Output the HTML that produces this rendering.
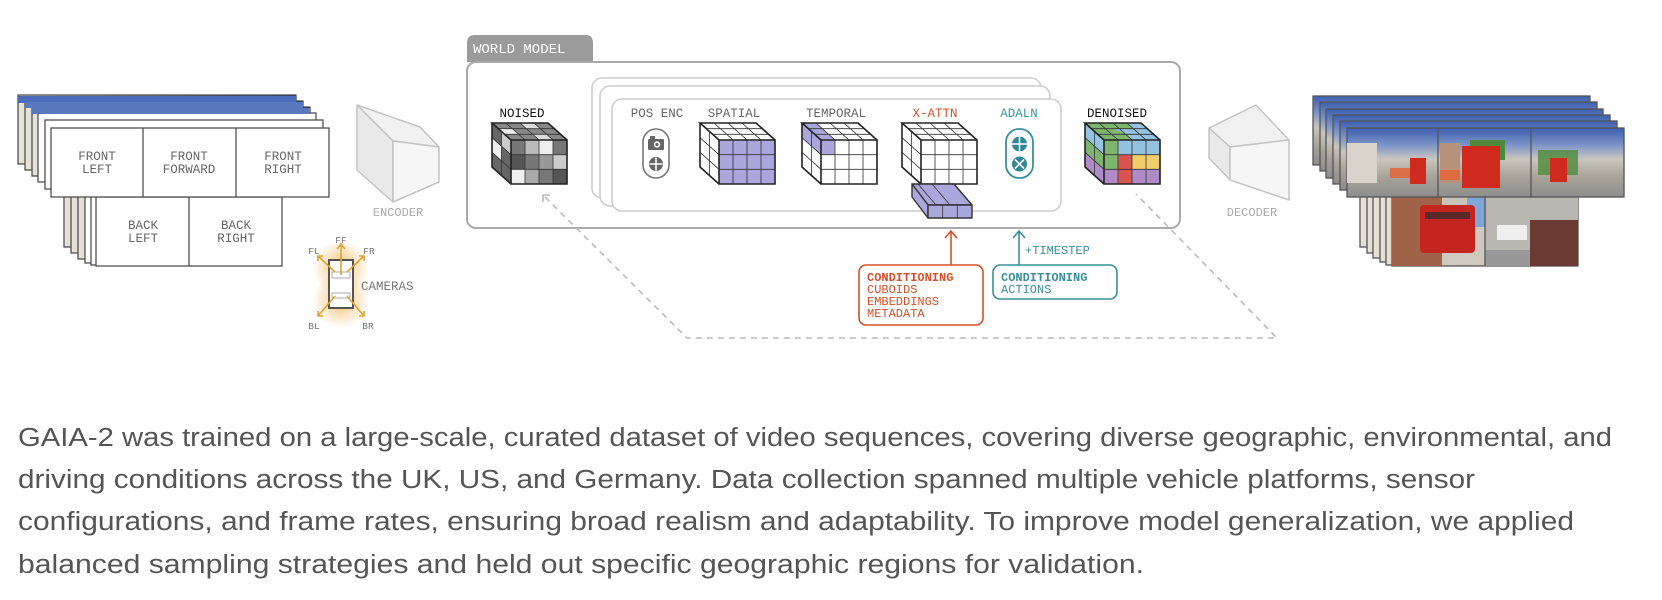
<!DOCTYPE html>
<html><head><meta charset="utf-8"><style>
html,body{margin:0;padding:0;background:#fff;width:1662px;height:600px;overflow:hidden}
svg{display:block}
.m{font-family:"Liberation Mono",monospace}
</style></head><body>
<svg width="1662" height="600" viewBox="0 0 1662 600" xmlns="http://www.w3.org/2000/svg">
<defs>
<linearGradient id="img" x1="0" y1="0" x2="0" y2="1">
<stop offset="0" stop-color="#3d5fb0"/><stop offset="0.25" stop-color="#7d95c8"/><stop offset="0.45" stop-color="#c9c6bd"/><stop offset="0.7" stop-color="#a9a49a"/><stop offset="1" stop-color="#8d8d8d"/></linearGradient>
<linearGradient id="side" x1="0" y1="0" x2="1" y2="0">
<stop offset="0" stop-color="#e8e4da"/><stop offset="0.5" stop-color="#8a8378"/><stop offset="1" stop-color="#2a3f7a"/></linearGradient>
<radialGradient id="glow"><stop offset="0" stop-color="#f0b24a" stop-opacity="0.8"/><stop offset="1" stop-color="#f0b24a" stop-opacity="0"/></radialGradient>
<g id="grid" fill="none" stroke="#333" stroke-width="0.8">
<path d="M14 0V44M28 0V44M42 0V44M0 14.7H56M0 29.3H56"/>
<path d="M14 0L-5 -17M28 0L9 -17M42 0L23 -17M-6.3 -5.7H49.7M-12.7 -11.3H43.3"/>
<path d="M0 14.7L-19 -2.3M0 29.3L-19 12.3M-9.5 -8.5V35.5"/>
<path d="M0 0H56V44H0ZM0 0L-19 -17H37L56 0M0 44L-19 27V-17" stroke-width="1.6" stroke="#222"/>
</g>
</defs>

<g stroke="#444" stroke-width="1.2">
<rect x="18" y="95" width="278" height="69" fill="url(#side)"/>
<rect x="25" y="101" width="278" height="69" fill="url(#side)"/>
<rect x="32" y="107" width="278" height="69" fill="url(#side)"/>
<rect x="38" y="113" width="278" height="69" fill="#fff"/>
<rect x="45" y="120" width="278" height="69" fill="#fff"/>
</g>
<rect x="18" y="96" width="278" height="7" fill="#4a6bb8"/>
<rect x="25" y="102" width="278" height="6" fill="#5a78c0"/>
<rect x="32" y="108" width="278" height="6" fill="#5a78c0"/>
<g stroke="#444" stroke-width="1.2">
<rect x="64" y="178" width="186" height="69" fill="url(#side)"/>
<rect x="71" y="184" width="186" height="69" fill="url(#side)"/>
<rect x="78" y="190" width="186" height="69" fill="url(#side)"/>
<rect x="85" y="194" width="186" height="69" fill="#fff"/>
<rect x="91" y="196" width="186" height="69" fill="#fff"/>
<rect x="96" y="197" width="186" height="69" fill="#fff"/>
<line x1="189" y1="197" x2="189" y2="266"/>
<rect x="51" y="128" width="278" height="69" fill="#fff"/>
<line x1="143" y1="128" x2="143" y2="197"/>
<line x1="236" y1="128" x2="236" y2="197"/>
</g>
<g class="m" font-size="12.5" fill="#666" text-anchor="middle">
<text x="97" y="160">FRONT</text><text x="97" y="173">LEFT</text>
<text x="189" y="160">FRONT</text><text x="189" y="173">FORWARD</text>
<text x="283" y="160">FRONT</text><text x="283" y="173">RIGHT</text>
<text x="143" y="229">BACK</text><text x="143" y="242">LEFT</text>
<text x="236" y="229">BACK</text><text x="236" y="242">RIGHT</text>
</g>

<g>
<circle cx="341" cy="268" r="28" fill="url(#glow)"/>
<circle cx="341" cy="300" r="28" fill="url(#glow)"/>
<rect x="329" y="260" width="24" height="48" fill="#fff" stroke="#444" stroke-width="1.8"/>
<rect x="332" y="272" width="18" height="6" fill="none" stroke="#999" stroke-width="0.8"/>
<rect x="332" y="293" width="18" height="5" fill="none" stroke="#999" stroke-width="0.8"/>
<g stroke="#e5a030" stroke-width="1.6" fill="none">
<path d="M341 275V245M337 249L341 244L345 249"/>
<path d="M335 272L318 256M318 261V256H323"/>
<path d="M347 272L364 256M359 256H364V261"/>
<path d="M335 296L318 316M318 311V316H323"/>
<path d="M347 296L364 316M359 316H364V311"/>
</g>
<g class="m" font-size="9.5" fill="#777" text-anchor="middle">
<text x="341" y="243">FF</text><text x="314" y="254">FL</text><text x="369" y="254">FR</text>
<text x="314" y="329">BL</text><text x="368" y="329">BR</text>
</g>
<text x="361" y="290" class="m" font-size="12.5" fill="#777">CAMERAS</text>
</g>

<g stroke="#c4c4c4" stroke-width="1.5" stroke-linejoin="round">
<polygon points="357,105 420,127 439,147 393,141" fill="#f1f1f1"/>
<polygon points="357,105 393,141 393,202 357,170" fill="#e9e9e9"/>
<polygon points="393,141 439,147 439,182 393,202" fill="#f6f6f6"/>
</g>
<text x="398" y="216" class="m" font-size="12" fill="#aaa" text-anchor="middle">ENCODER</text>

<g stroke="#c4c4c4" stroke-width="1.5" stroke-linejoin="round">
<polygon points="1209,128 1256,105 1289,140 1230,147" fill="#f1f1f1"/>
<polygon points="1209,128 1230,147 1230,180 1209,158" fill="#e9e9e9"/>
<polygon points="1230,147 1289,140 1289,200 1230,180" fill="#f6f6f6"/>
</g>
<text x="1252" y="216" class="m" font-size="12" fill="#aaa" text-anchor="middle">DECODER</text>

<path d="M467 62V43Q467 35 475 35H586Q593 35 593 43V62Z" fill="#9b9b9b"/>
<text x="473" y="53" class="m" font-size="14" fill="#fff">WORLD MODEL</text>
<rect x="467" y="62" width="713" height="166" rx="9" fill="#fff" stroke="#aaa" stroke-width="2"/>
<rect x="592" y="78" width="449" height="120" rx="10" fill="#fff" stroke="#ccc" stroke-width="1.5"/>
<rect x="600" y="86" width="450" height="120" rx="10" fill="#fff" stroke="#ccc" stroke-width="1.5"/>
<rect x="612" y="99" width="449" height="112" rx="10" fill="#fff" stroke="#ccc" stroke-width="1.5"/>

<g fill="none" stroke="#bbb" stroke-width="1.6" stroke-dasharray="6 5">
<path d="M545 197L687 338H1277L1136 194"/>
</g>
<path d="M543 202V195H550" fill="none" stroke="#bbb" stroke-width="1.6"/>

<g class="m" font-size="12.5" text-anchor="middle">
<text x="522" y="117" fill="#111">NOISED</text>
<text x="657" y="117" fill="#666">POS ENC</text>
<text x="734" y="117" fill="#666">SPATIAL</text>
<text x="836" y="117" fill="#666">TEMPORAL</text>
<text x="935" y="117" fill="#d5502a">X-ATTN</text>
<text x="1019" y="117" fill="#3b97a8">ADALN</text>
<text x="1117" y="117" fill="#111">DENOISED</text>
</g>

<g transform="translate(511,140)">
<polygon points="0,0 56,0 56,44 0,44" fill="#777"/>
<polygon points="0,0 -19,-17 37,-17 56,0" fill="#888"/>
<polygon points="0,0 -19,-17 -19,27 0,44" fill="#666"/>
<rect x="14" y="0" width="14" height="14.7" fill="#bbb"/><rect x="28" y="0" width="14" height="14.7" fill="#eee"/>
<rect x="0" y="14.7" width="14" height="14.7" fill="#555"/><rect x="28" y="14.7" width="14" height="14.7" fill="#999"/><rect x="42" y="14.7" width="14" height="14.7" fill="#ccc"/>
<rect x="0" y="29.3" width="14" height="14.7" fill="#eee"/><rect x="14" y="29.3" width="14" height="14.7" fill="#aaa"/><rect x="42" y="29.3" width="14" height="14.7" fill="#555"/>
<polygon points="-12.7,-11.3 -6.3,-5.7 7.7,-5.7 1.3,-11.3" fill="#eee"/>
<polygon points="9,-17 15.3,-11.3 29.3,-11.3 23,-17" fill="#ddd"/>
<polygon points="-19,-2.3 -9.5,6.2 -9.5,20.8 -19,12.3" fill="#eee"/>
<polygon points="-9.5,-8.5 0,0 0,14.7 -9.5,6.2" fill="#ccc"/>
<polygon points="28,0 21.7,-5.7 35.7,-5.7 42,0" fill="#ddd"/>
<use href="#grid"/>
</g>

<rect x="643" y="129" width="26" height="49" rx="13" fill="#fff" stroke="#777" stroke-width="1.6"/>
<g fill="#666"><rect x="648" y="139" width="16" height="11" rx="1"/><rect x="650" y="136" width="5" height="4"/><circle cx="657" cy="144.5" r="3.2" fill="#fff"/><circle cx="657" cy="144.5" r="1.6"/></g>
<circle cx="656" cy="164" r="7" fill="#666"/><path d="M649.5 164H662.5M656 157.5V170.5" stroke="#fff" stroke-width="1.6"/>

<g transform="translate(719,140)">
<rect x="0" y="0" width="56" height="44" fill="#aaa7dd"/>
<polygon points="0,0 -19,-17 37,-17 56,0" fill="#fff"/>
<polygon points="0,0 -19,-17 -19,27 0,44" fill="#fff"/>
<use href="#grid"/>
</g>
<g transform="translate(821,140)">
<rect x="0" y="0" width="56" height="44" fill="#fff"/>
<polygon points="0,0 -19,-17 37,-17 56,0" fill="#fff"/>
<polygon points="0,0 -19,-17 -19,27 0,44" fill="#fff"/>
<polygon points="0,0 -19,-17 -5,-17 14,0" fill="#aaa7dd"/>
<polygon points="0,0 -19,-17 -19,-2.3 0,14.7" fill="#aaa7dd"/>
<rect x="0" y="0" width="14" height="14.7" fill="#aaa7dd"/>
<use href="#grid"/>
</g>
<g transform="translate(921,140)">
<rect x="0" y="0" width="56" height="44" fill="#fff"/>
<polygon points="0,0 -19,-17 37,-17 56,0" fill="#fff"/>
<polygon points="0,0 -19,-17 -19,27 0,44" fill="#fff"/>
<use href="#grid"/>
</g>
<g stroke="#333" stroke-width="1.4" fill="#aaa7dd" stroke-linejoin="round">
<polygon points="912,184 954,184 972,205 928,205"/>
<polygon points="912,184 928,205 928,218 912,197"/>
<rect x="928" y="205" width="44" height="13"/>
<path d="M942.7 205V218M957.3 205V218M918 184L936 205M932 184L950 205" stroke-width="0.8" fill="none"/>
</g>

<rect x="1006" y="129" width="27" height="49" rx="13" fill="#fff" stroke="#3a8f9c" stroke-width="1.8"/>
<circle cx="1019.5" cy="144" r="7.5" fill="#2e8794"/><path d="M1012 144H1027M1019.5 136.5V151.5" stroke="#fff" stroke-width="1.6"/>
<circle cx="1019.5" cy="164" r="7.5" fill="#2e8794"/><path d="M1015 159.5L1024 168.5M1024 159.5L1015 168.5" stroke="#fff" stroke-width="1.6"/>

<g transform="translate(1104,140)">
<rect x="0" y="0" width="14" height="29.3" fill="#7cb56b"/><rect x="0" y="29.3" width="14" height="14.7" fill="#b08ac7"/>
<rect x="14" y="0" width="42" height="14.7" fill="#93c3e0"/>
<rect x="14" y="14.7" width="14" height="29.3" fill="#d9534f"/>
<rect x="28" y="14.7" width="28" height="14.6" fill="#f0cf6a"/>
<rect x="28" y="29.3" width="28" height="14.7" fill="#b08ac7"/>
<polygon points="0,0 -19,-17 37,-17 56,0" fill="#93c3e0"/>
<polygon points="0,0 -19,-17 -5,-17 23,-5.7 28,0" fill="#7cb56b"/>
<polygon points="-5,-17 23,-17 29.3,-11.3 1.3,-11.3" fill="#7cb56b"/>
<polygon points="0,0 -19,-17 -19,-2.3 0,14.7" fill="#93c3e0"/>
<polygon points="0,14.7 -19,-2.3 -19,12.3 0,29.3" fill="#7cb56b"/>
<polygon points="0,29.3 -19,12.3 -19,27 0,44" fill="#b08ac7"/>
<use href="#grid"/>
</g>

<path d="M951 265V231M945 238L951 231L957 238" fill="none" stroke="#d5502a" stroke-width="1.6"/>
<rect x="859" y="265" width="124" height="60" rx="7" fill="#fff" stroke="#d5502a" stroke-width="1.6"/>
<g class="m" font-size="12" fill="#d5502a">
<text x="867" y="281" font-weight="bold">CONDITIONING</text>
<text x="867" y="293">CUBOIDS</text><text x="867" y="305">EMBEDDINGS</text><text x="867" y="317">METADATA</text>
</g>
<path d="M1019 265V231M1013 238L1019 231L1025 238" fill="none" stroke="#3a8f9c" stroke-width="1.6"/>
<text x="1025" y="254" class="m" font-size="12" fill="#3a8f9c">+TIMESTEP</text>
<rect x="993" y="265" width="124" height="34" rx="7" fill="#fff" stroke="#3a8f9c" stroke-width="1.6"/>
<g class="m" font-size="12" fill="#3a8f9c">
<text x="1001" y="281" font-weight="bold">CONDITIONING</text>
<text x="1001" y="293">ACTIONS</text>
</g>

<g stroke="#555" stroke-width="1.3">
<rect x="1313" y="96" width="277" height="69" fill="url(#img)"/>
<rect x="1320" y="102" width="277" height="69" fill="url(#img)"/>
<rect x="1326" y="109" width="277" height="69" fill="url(#img)"/>
<rect x="1333" y="115" width="277" height="69" fill="url(#img)"/>
<rect x="1340" y="121" width="277" height="69" fill="url(#img)"/>
<rect x="1360" y="178" width="186" height="69" fill="url(#side)"/>
<rect x="1367" y="184" width="186" height="69" fill="url(#side)"/>
<rect x="1373" y="189" width="186" height="69" fill="url(#side)"/>
<rect x="1380" y="193" width="186" height="69" fill="url(#side)"/>
<rect x="1386" y="196" width="186" height="69" fill="url(#side)"/>
</g>
<rect x="1392" y="197" width="186" height="69" fill="#cfcac0" stroke="#555" stroke-width="1.3"/>
<rect x="1392" y="197" width="50" height="69" fill="#a1624a"/>
<rect x="1442" y="197" width="43" height="30" fill="#c9c4b8"/>
<rect x="1467" y="197" width="18" height="30" fill="#7fa6d8"/>
<rect x="1420" y="205" width="55" height="48" rx="4" fill="#c5251f"/>
<rect x="1425" y="212" width="45" height="7" fill="#5a2a2a"/>
<rect x="1485" y="197" width="93" height="69" fill="#b9b7b2"/>
<rect x="1530" y="220" width="48" height="46" fill="#6b3a32"/>
<rect x="1497" y="225" width="30" height="15" fill="#eee"/>
<rect x="1485" y="250" width="45" height="16" fill="#999"/>
<line x1="1485" y1="197" x2="1485" y2="266" stroke="#555" stroke-width="1.3"/>
<rect x="1347" y="128" width="277" height="69" fill="url(#img)" stroke="#555" stroke-width="1.3"/>
<rect x="1347" y="143" width="30" height="40" fill="#d8d4cc"/>
<rect x="1440" y="143" width="20" height="40" fill="#b8917a"/>
<rect x="1470" y="140" width="35" height="20" fill="#4f8a3a"/>
<rect x="1538" y="150" width="40" height="25" fill="#4f8a3a" opacity="0.8"/>
<rect x="1410" y="158" width="16" height="26" fill="#d02a1f"/>
<rect x="1462" y="146" width="38" height="42" fill="#d02a1f"/>
<rect x="1550" y="158" width="17" height="24" fill="#d02a1f"/>
<rect x="1390" y="168" width="20" height="10" fill="#e86030" opacity="0.8"/>
<rect x="1440" y="170" width="20" height="10" fill="#e86030" opacity="0.8"/>
<line x1="1438" y1="128" x2="1438" y2="197" stroke="#555" stroke-width="1.3"/>
<line x1="1531" y1="128" x2="1531" y2="197" stroke="#555" stroke-width="1.3"/>

<g font-family="Liberation Sans, sans-serif" font-size="25.5" fill="#555">
<text x="18" y="446" textLength="1594" lengthAdjust="spacingAndGlyphs">GAIA-2 was trained on a large-scale, curated dataset of video sequences, covering diverse geographic, environmental, and</text>
<text x="18" y="488" textLength="1457" lengthAdjust="spacingAndGlyphs">driving conditions across the UK, US, and Germany. Data collection spanned multiple vehicle platforms, sensor</text>
<text x="18" y="530" textLength="1556" lengthAdjust="spacingAndGlyphs">configurations, and frame rates, ensuring broad realism and adaptability. To improve model generalization, we applied</text>
<text x="18" y="573" textLength="1126" lengthAdjust="spacingAndGlyphs">balanced sampling strategies and held out specific geographic regions for validation.</text>
</g>
</svg>
</body></html>
